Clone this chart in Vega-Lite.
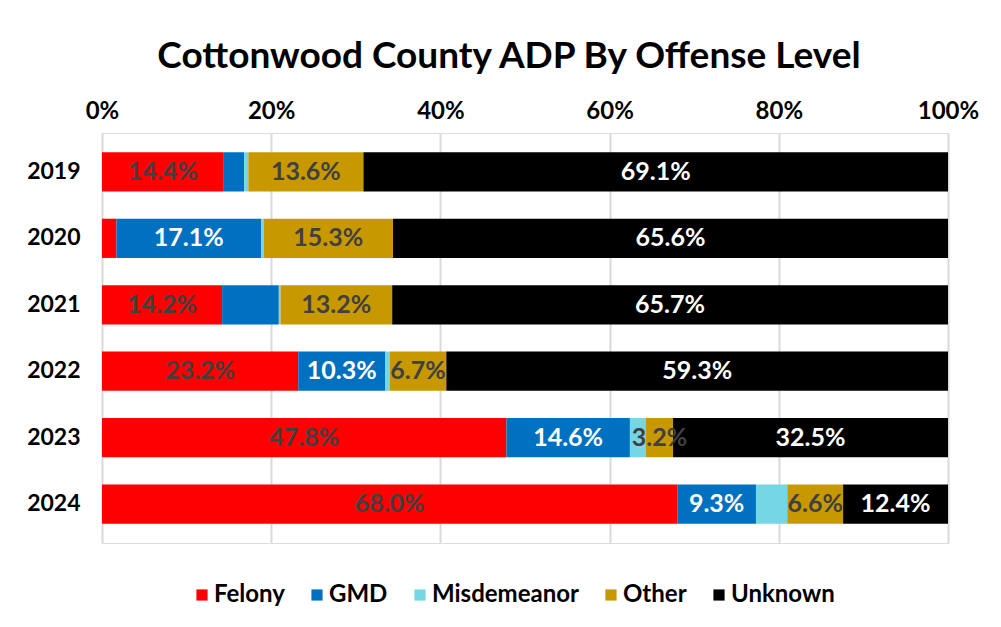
{
  "$schema": "https://vega.github.io/schema/vega-lite/v6.json",
  "width": 846,
  "height": 410,
  "autosize": {"type": "none"},
  "padding": {"left": 102, "top": 133, "right": 53, "bottom": 84},
  "background": "white",
  "title": {
    "text": "Cottonwood County ADP By Offense Level",
    "font": "Lato",
    "fontSize": 37,
    "fontWeight": "bold",
    "color": "black",
    "anchor": "middle",
    "frame": "group",
    "dx": -16,
    "offset": 23
  },
  "data": {
    "values": [
      {"year": "2019", "cat": "Felony", "ord": 1, "value": 14.4, "label": "14.4%"},
      {"year": "2019", "cat": "GMD", "ord": 2, "value": 2.4, "label": ""},
      {"year": "2019", "cat": "Misdemeanor", "ord": 3, "value": 0.5, "label": ""},
      {"year": "2019", "cat": "Other", "ord": 4, "value": 13.6, "label": "13.6%"},
      {"year": "2019", "cat": "Unknown", "ord": 5, "value": 69.1, "label": "69.1%"},
      {"year": "2020", "cat": "Felony", "ord": 1, "value": 1.7, "label": ""},
      {"year": "2020", "cat": "GMD", "ord": 2, "value": 17.1, "label": "17.1%"},
      {"year": "2020", "cat": "Misdemeanor", "ord": 3, "value": 0.3, "label": ""},
      {"year": "2020", "cat": "Other", "ord": 4, "value": 15.3, "label": "15.3%"},
      {"year": "2020", "cat": "Unknown", "ord": 5, "value": 65.6, "label": "65.6%"},
      {"year": "2021", "cat": "Felony", "ord": 1, "value": 14.2, "label": "14.2%"},
      {"year": "2021", "cat": "GMD", "ord": 2, "value": 6.7, "label": ""},
      {"year": "2021", "cat": "Misdemeanor", "ord": 3, "value": 0.2, "label": ""},
      {"year": "2021", "cat": "Other", "ord": 4, "value": 13.2, "label": "13.2%"},
      {"year": "2021", "cat": "Unknown", "ord": 5, "value": 65.7, "label": "65.7%"},
      {"year": "2022", "cat": "Felony", "ord": 1, "value": 23.2, "label": "23.2%"},
      {"year": "2022", "cat": "GMD", "ord": 2, "value": 10.3, "label": "10.3%"},
      {"year": "2022", "cat": "Misdemeanor", "ord": 3, "value": 0.5, "label": ""},
      {"year": "2022", "cat": "Other", "ord": 4, "value": 6.7, "label": "6.7%"},
      {"year": "2022", "cat": "Unknown", "ord": 5, "value": 59.3, "label": "59.3%"},
      {"year": "2023", "cat": "Felony", "ord": 1, "value": 47.8, "label": "47.8%"},
      {"year": "2023", "cat": "GMD", "ord": 2, "value": 14.6, "label": "14.6%"},
      {"year": "2023", "cat": "Misdemeanor", "ord": 3, "value": 1.9, "label": ""},
      {"year": "2023", "cat": "Other", "ord": 4, "value": 3.2, "label": "3.2%"},
      {"year": "2023", "cat": "Unknown", "ord": 5, "value": 32.5, "label": "32.5%"},
      {"year": "2024", "cat": "Felony", "ord": 1, "value": 68.0, "label": "68.0%"},
      {"year": "2024", "cat": "GMD", "ord": 2, "value": 9.3, "label": "9.3%"},
      {"year": "2024", "cat": "Misdemeanor", "ord": 3, "value": 3.7, "label": ""},
      {"year": "2024", "cat": "Other", "ord": 4, "value": 6.6, "label": "6.6%"},
      {"year": "2024", "cat": "Unknown", "ord": 5, "value": 12.4, "label": "12.4%"}
    ]
  },
  "encoding": {
    "y": {
      "field": "year",
      "type": "ordinal",
      "title": null,
      "scale": {"paddingInner": 0.41, "paddingOuter": 0.29},
      "axis": {
        "domain": false,
        "ticks": false,
        "grid": false,
        "labelFont": "Lato",
        "labelFontSize": 23,
        "labelFontWeight": "bold",
        "labelColor": "black",
        "labelPadding": 22
      }
    }
  },
  "layer": [
    {
      "mark": {"type": "bar"},
      "encoding": {
        "x": {
          "field": "value",
          "type": "quantitative",
          "stack": "zero",
          "title": null,
          "scale": {"domain": [0, 100]},
          "axis": {
            "orient": "top",
            "values": [0, 20, 40, 60, 80, 100],
            "labelExpr": "datum.value + '%'",
            "labelFlush": false,
            "labelBound": false,
            "labelOverlap": false,
            "domain": false,
            "ticks": false,
            "grid": true,
            "gridColor": "#d9d9d9",
            "gridWidth": 2,
            "labelFont": "Lato",
            "labelFontSize": 24,
            "labelFontWeight": "bold",
            "labelColor": "black",
            "labelPadding": 10
          }
        },
        "color": {
          "field": "cat",
          "type": "nominal",
          "scale": {
            "domain": ["Felony", "GMD", "Misdemeanor", "Other", "Unknown"],
            "range": ["#FF0000", "#0070C0", "#75D6E6", "#C89800", "#000000"]
          },
          "legend": {
            "title": null,
            "orient": "none",
            "direction": "horizontal",
            "legendX": 88,
            "legendY": 450,
            "symbolType": "square",
            "symbolSize": 125,
            "symbolStrokeWidth": 0,
            "labelFont": "Lato",
            "labelFontSize": 24,
            "labelFontWeight": "bold",
            "labelColor": "black",
            "labelOffset": 0,
            "columnPadding": 20
          }
        },
        "order": {"field": "ord", "type": "quantitative"}
      }
    },
    {
      "transform": [
        {"stack": "value", "groupby": ["year"], "sort": [{"field": "ord", "order": "ascending"}], "as": ["x0", "x1"]},
        {"calculate": "(datum.x0 + datum.x1) / 2", "as": "xmid"}
      ],
      "mark": {"type": "text", "align": "center", "baseline": "middle", "font": "Lato", "fontSize": 25, "fontWeight": "bold"},
      "encoding": {
        "x": {"field": "xmid", "type": "quantitative"},
        "text": {"field": "label"},
        "color": {
          "condition": {"test": "datum.cat === 'GMD' || datum.cat === 'Unknown'", "value": "white"},
          "value": "#404040"
        }
      }
    }
  ]
}
